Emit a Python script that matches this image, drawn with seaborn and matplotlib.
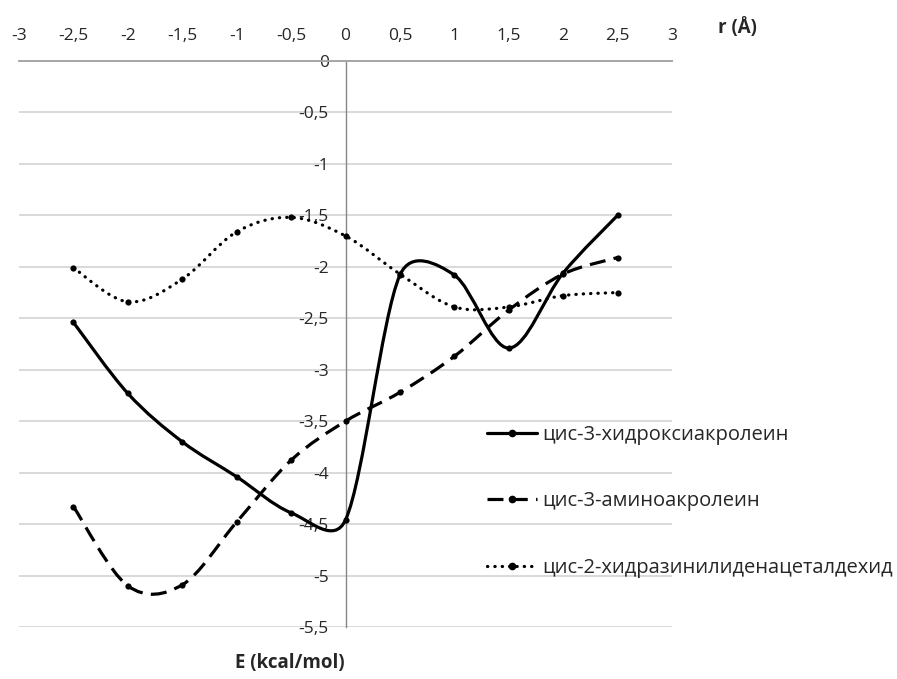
import numpy as np
import pandas as pd
import matplotlib
matplotlib.use("Agg")
import matplotlib.pyplot as plt
import seaborn as sns
from matplotlib.path import Path
from matplotlib.patches import PathPatch
from matplotlib.lines import Line2D
from matplotlib.ticker import FuncFormatter, MultipleLocator

# values
r = [-2.5, -2, -1.5, -1, -0.5, 0, 0.5, 1, 1.5, 2, 2.5]
hydroxy = [-2.54, -3.23, -3.70, -4.04, -4.39, -4.46, -2.08, -2.08, -2.79, -2.06, -1.50]
amino = [-4.33, -5.10, -5.09, -4.48, -3.88, -3.50, -3.22, -2.87, -2.42, -2.07, -1.91]
hydrazin = [-2.01, -2.34, -2.12, -1.66, -1.52, -1.70, -2.07, -2.39, -2.39, -2.28, -2.25]
names = ["цис-3-хидроксиакролеин", "цис-3-аминоакролеин", "цис-2-хидразинилиденацеталдехид"]

sns.set_style("white")
plt.rcParams["font.family"] = ["Open Sans", "DejaVu Sans"]

df = pd.DataFrame({"r": r * 3,
                   "E": hydroxy + amino + hydrazin,
                   "series": [names[0]] * len(r) + [names[1]] * len(r) + [names[2]] * len(r)})


def smooth_path(xs, ys, ax):
    # bezier curve through the points, like a smoothed line in a spreadsheet;
    # control arms are 1/6 of the tangent but never longer than half a segment
    disp = ax.transData.transform(np.column_stack([xs, ys]))
    inv = ax.transData.inverted()
    n = len(disp)
    verts = [disp[0]]
    codes = [Path.MOVETO]
    for i in range(n - 1):
        p1, p2 = disp[i], disp[i + 1]
        p0 = disp[i - 1] if i > 0 else p1
        p3 = disp[i + 2] if i + 2 < n else p2
        d12 = np.hypot(*(p2 - p1))
        d02 = np.hypot(*(p2 - p0))
        d13 = np.hypot(*(p3 - p1))
        f0 = min(1 / 6, d12 / 2 / d02) if d02 > 0 else 0
        f1 = min(1 / 6, d12 / 2 / d13) if d13 > 0 else 0
        verts += [p1 + (p2 - p0) * f0, p2 - (p3 - p1) * f1, p2]
        codes += [Path.CURVE4] * 3
    return Path(inv.transform(np.array(verts)), codes)


styles = {names[0]: (0, ()), names[1]: (0, (5, 2.6)), names[2]: (0, (0.1, 2.2))}
caps = {names[0]: "round", names[1]: "butt", names[2]: "round"}

fig = plt.figure(figsize=(8.97, 6.79), dpi=100)
ax = fig.add_axes([19 / 897, 1 - 627 / 679, 653 / 897, 566 / 679])
ax.set_xlim(-3, 3)
ax.set_ylim(-5.5, 0)

for name in names:
    sub = df[df["series"] == name]
    patch = PathPatch(smooth_path(sub["r"].values, sub["E"].values, ax), facecolor="none",
                      edgecolor="black", lw=2.3, linestyle=styles[name], capstyle=caps[name],
                      zorder=3)
    ax.add_patch(patch)

sns.scatterplot(data=df, x="r", y="E", color="black", s=20, edgecolor="black",
                linewidth=0, legend=False, ax=ax, zorder=4)

ax.set_xlim(-3, 3)
ax.set_ylim(-5.5, 0)
ax.xaxis.set_major_locator(MultipleLocator(0.5))
ax.yaxis.set_major_locator(MultipleLocator(0.5))
fmt = FuncFormatter(lambda v, p: "0" if abs(v) < 1e-9 else ("%g" % v).replace(".", ","))
ax.xaxis.set_major_formatter(fmt)
ax.yaxis.set_major_formatter(fmt)
ax.xaxis.tick_top()
ax.tick_params(axis="x", length=0, pad=12, labelsize=12.5, colors="#262626")
ax.tick_params(axis="y", length=0, pad=12, labelsize=12.5, colors="#262626")
ax.yaxis.grid(True, color="#d9d9d9", lw=1.4)
ax.xaxis.grid(False)
ax.set_axisbelow(True)
for s in ["bottom", "right"]:
    ax.spines[s].set_visible(False)
ax.spines["top"].set_color("#a6a6a6")
ax.spines["top"].set_linewidth(1.4)
ax.spines["left"].set_position(("data", 0))
ax.spines["left"].set_color("#868686")
ax.spines["left"].set_linewidth(1.0)
ax.set_xlabel("")
ax.set_ylabel("")

fig.text(737 / 897, 1 - 28 / 679, "r (Å)", fontsize=13.5, fontweight="bold", ha="center", va="center")
fig.text(290 / 897, 1 - 663 / 679, "E (kcal/mol)", fontsize=13.5, fontweight="bold", ha="center", va="center")

handles = [Line2D([], [], color="black", lw=2.3, linestyle=styles[n], dash_capstyle=caps[n],
                  marker="o", markersize=4.5) for n in names]
fig.legend(handles, names, loc="upper left", bbox_to_anchor=(487 / 897, 1 - 425 / 679),
           frameon=False, fontsize=14.5, handlelength=2.5, handletextpad=0.25,
           labelspacing=2.3, borderpad=0, borderaxespad=0)

fig.savefig("out.png", dpi=100)
